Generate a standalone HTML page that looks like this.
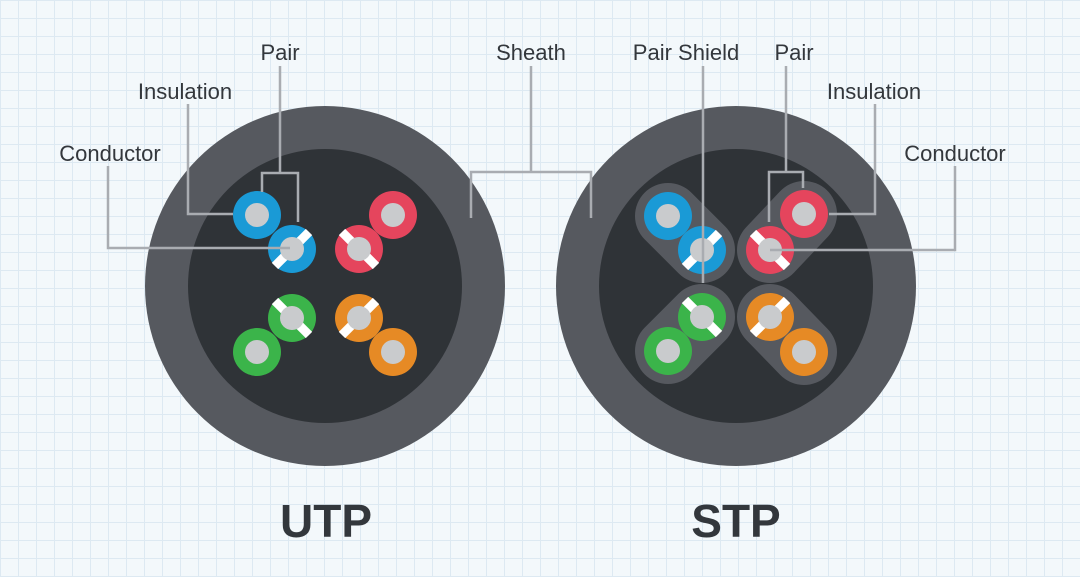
<!DOCTYPE html>
<html><head><style>
body{margin:0;width:1080px;height:577px;overflow:hidden;background:#f3f8fb;
background-image:linear-gradient(#dde9f2 1px,transparent 1px),linear-gradient(90deg,#dde9f2 1px,transparent 1px);background-size:18px 18px;}
svg{position:absolute;left:0;top:0}
text{font-family:"Liberation Sans",sans-serif;fill:#33373c}
</style></head><body>
<svg width="1080" height="577" viewBox="0 0 1080 577">
<defs>
<g id="c"><circle r="12" fill="#c9cbcd"/></g>
</defs>
<!-- UTP -->
<circle cx="325" cy="286" r="180" fill="#56595f"/>
<circle cx="325" cy="286" r="137" fill="#2f3337"/>
<!-- STP -->
<circle cx="736" cy="286" r="180" fill="#56595f"/>
<circle cx="736" cy="286" r="137" fill="#2f3337"/>
<g stroke="#56595f" stroke-width="66" stroke-linecap="round">
<line x1="668" y1="216" x2="702" y2="250"/>
<line x1="804" y1="214" x2="770" y2="250"/>
<line x1="702" y1="317" x2="668" y2="351"/>
<line x1="770" y1="317" x2="804" y2="352"/>
</g>
<g id="wires">
</g>
<!-- wires helper: colored disk, optional stripe, center -->
<g>
<!-- UTP -->
<circle cx="257" cy="215" r="24" fill="#1a9ad6"/><circle cx="257" cy="215" r="12" fill="#c9cbcd"/>
<circle cx="292" cy="249" r="24" fill="#1a9ad6"/><line x1="275" y1="266" x2="309" y2="232" stroke="#fff" stroke-width="9"/><circle cx="292" cy="249" r="12" fill="#c9cbcd"/>
<circle cx="393" cy="215" r="24" fill="#e5455d"/><circle cx="393" cy="215" r="12" fill="#c9cbcd"/>
<circle cx="359" cy="249" r="24" fill="#e5455d"/><line x1="342" y1="232" x2="376" y2="266" stroke="#fff" stroke-width="9"/><circle cx="359" cy="249" r="12" fill="#c9cbcd"/>
<circle cx="292" cy="318" r="24" fill="#3bb44a"/><line x1="275" y1="301" x2="309" y2="335" stroke="#fff" stroke-width="9"/><circle cx="292" cy="318" r="12" fill="#c9cbcd"/>
<circle cx="257" cy="352" r="24" fill="#3bb44a"/><circle cx="257" cy="352" r="12" fill="#c9cbcd"/>
<circle cx="359" cy="318" r="24" fill="#e68a25"/><line x1="342" y1="335" x2="376" y2="301" stroke="#fff" stroke-width="9"/><circle cx="359" cy="318" r="12" fill="#c9cbcd"/>
<circle cx="393" cy="352" r="24" fill="#e68a25"/><circle cx="393" cy="352" r="12" fill="#c9cbcd"/>
<!-- STP -->
<circle cx="668" cy="216" r="24" fill="#1a9ad6"/><circle cx="668" cy="216" r="12" fill="#c9cbcd"/>
<circle cx="702" cy="250" r="24" fill="#1a9ad6"/><line x1="685" y1="267" x2="719" y2="233" stroke="#fff" stroke-width="9"/><circle cx="702" cy="250" r="12" fill="#c9cbcd"/>
<circle cx="804" cy="214" r="24" fill="#e5455d"/><circle cx="804" cy="214" r="12" fill="#c9cbcd"/>
<circle cx="770" cy="250" r="24" fill="#e5455d"/><line x1="753" y1="233" x2="787" y2="267" stroke="#fff" stroke-width="9"/><circle cx="770" cy="250" r="12" fill="#c9cbcd"/>
<circle cx="702" cy="317" r="24" fill="#3bb44a"/><line x1="685" y1="300" x2="719" y2="334" stroke="#fff" stroke-width="9"/><circle cx="702" cy="317" r="12" fill="#c9cbcd"/>
<circle cx="668" cy="351" r="24" fill="#3bb44a"/><circle cx="668" cy="351" r="12" fill="#c9cbcd"/>
<circle cx="770" cy="317" r="24" fill="#e68a25"/><line x1="753" y1="334" x2="787" y2="300" stroke="#fff" stroke-width="9"/><circle cx="770" cy="317" r="12" fill="#c9cbcd"/>
<circle cx="804" cy="352" r="24" fill="#e68a25"/><circle cx="804" cy="352" r="12" fill="#c9cbcd"/>
</g>
<!-- leader lines -->
<g fill="none" stroke="#a9acb1" stroke-width="2.5">
<polyline points="280,66 280,173"/><polyline points="262,192 262,173 298,173 298,222"/>
<polyline points="188,104 188,214 233,214"/>
<polyline points="108,166 108,248 290,248"/>
<polyline points="531,66 531,172"/><polyline points="471,218 471,172 591,172 591,218"/>
<polyline points="703,66 703,283"/>
<polyline points="786,66 786,172"/><polyline points="769,222 769,172 803,172 803,188"/>
<polyline points="875,104 875,214 829,214"/>
<polyline points="955,166 955,250 770,250"/>
</g>
<g font-size="22">
<text x="280" y="60" text-anchor="middle">Pair</text>
<text x="185" y="99" text-anchor="middle">Insulation</text>
<text x="110" y="161" text-anchor="middle">Conductor</text>
<text x="531" y="60" text-anchor="middle">Sheath</text>
<text x="686" y="60" text-anchor="middle">Pair Shield</text>
<text x="794" y="60" text-anchor="middle">Pair</text>
<text x="874" y="99" text-anchor="middle">Insulation</text>
<text x="955" y="161" text-anchor="middle">Conductor</text>
</g>
<g font-size="46" font-weight="bold">
<text x="326" y="537" text-anchor="middle">UTP</text>
<text x="736" y="537" text-anchor="middle">STP</text>
</g>
</svg>
</body></html>
